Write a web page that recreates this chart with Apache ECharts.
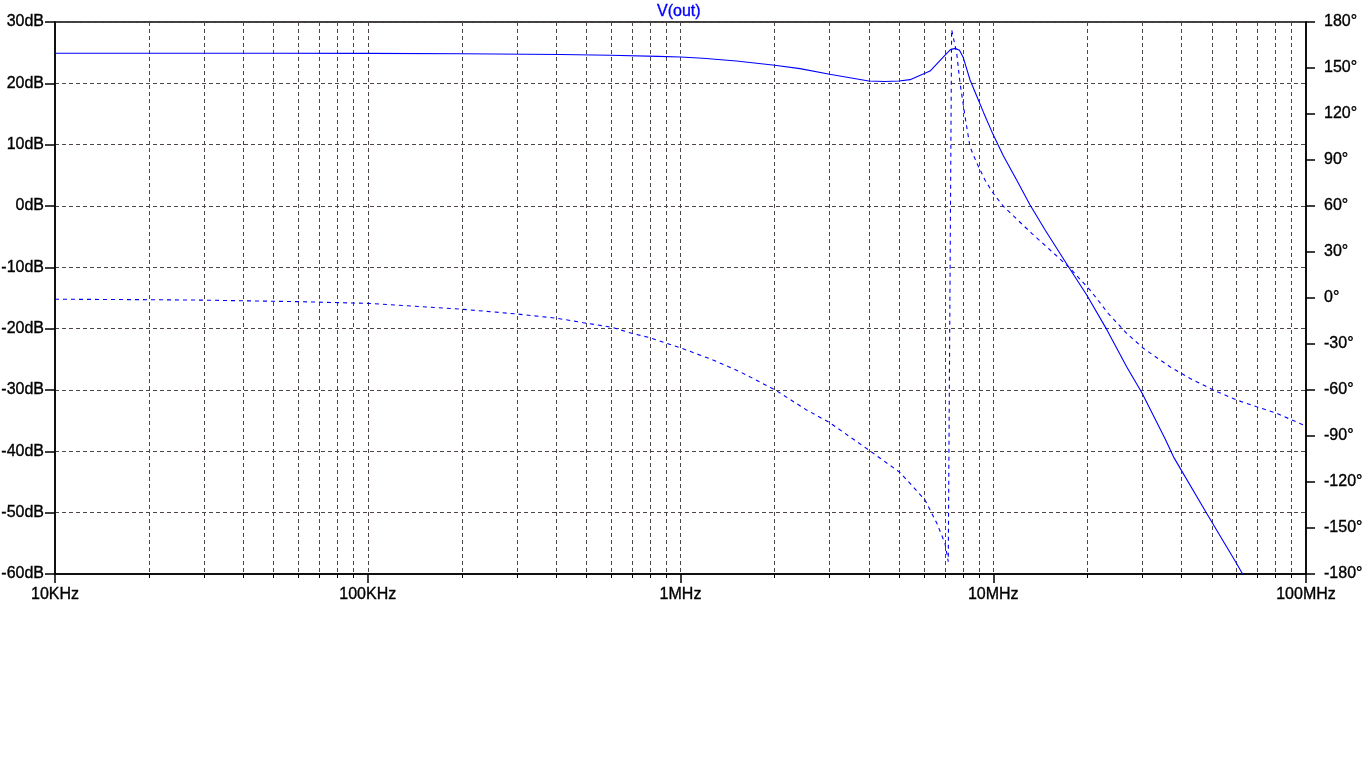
<!DOCTYPE html>
<html><head><meta charset="utf-8">
<script src="https://cdn.jsdelivr.net/npm/echarts@6/dist/echarts.min.js"></script>
<style>html,body{margin:0;padding:0;background:#fff;}#c{width:1366px;height:768px;}</style>
</head><body><div id="c"></div>
<script>
const chartTitle = 'V(out)';
const xTickLabels = ['10KHz', '100KHz', '1MHz', '10MHz', '100MHz'];
const leftUnit = 'dB';
const rightUnit = '°';

// Magnitude (dB, left axis)
const magFreq = [1e4, 2e4, 5e4, 1e5, 2e5, 4.12e5, 5.96e5, 8.48e5, 1e6, 1.18e6, 1.51e6, 2e6, 2.41e6, 3e6, 3.48e6, 4e6, 4.5e6, 5e6, 5.42e6, 6.28e6, 7.1e6, 7.3e6, 7.55e6, 7.8e6, 8.02e6, 8.43e6, 8.86e6, 9.3e6, 1e7, 1.077e7, 1.188e7, 1.31e7, 1.465e7, 1.74e7, 1.99e7, 2.31e7, 2.67e7, 2.99e7, 3.54e7, 3.77e7, 4.81e7, 6.0e7, 6.27e7];
const magDb   = [24.9, 24.9, 24.9, 24.88, 24.83, 24.7, 24.57, 24.4, 24.3, 24.08, 23.64, 22.94, 22.4, 21.47, 20.92, 20.38, 20.3, 20.38, 20.6, 22.0, 24.9, 25.5, 25.7, 25.4, 24.2, 20.54, 17.9, 15.3, 11.6, 8.2, 4.24, 0.2, -3.9, -9.9, -14.5, -20.2, -26.2, -30.5, -37.9, -40.9, -50.1, -58.3, -60.0];

// Phase (degrees, right axis)
const phaseFreq = [1e4, 2e4, 3e4, 6.07e4, 1e5, 2.02e5, 2.99e5, 4.02e5, 4.89e5, 6.03e5, 6.98e5, 7.99e5, 9.03e5, 1.01e6, 1.27e6, 1.55e6, 2.01e6, 2.53e6, 3.0e6, 4.04e6, 5.04e6, 6.05e6, 6.6e6, 7.01e6, 7.18e6, 7.36e6, 7.64e6, 7.83e6, 8.13e6, 8.43e6, 8.86e6, 9.41e6, 9.98e6, 1.075e7, 1.188e7, 1.327e7, 1.52e7, 1.74e7, 2.04e7, 2.33e7, 2.67e7, 3.02e7, 3.67e7, 4.25e7, 5.05e7, 6.0e7, 6.95e7, 8.05e7, 1e8];
const phaseDeg  = [-0.8, -1.1, -1.4, -2.4, -3.5, -7.4, -10.4, -13.2, -16.1, -19.1, -23.0, -25.9, -29.6, -32.8, -40.4, -48.1, -60.0, -73.0, -81.3, -99.8, -113.9, -131.7, -146.9, -160, -172, 175, 159.8, 140.2, 118, 98.5, 88, 77, 68.5, 60.0, 51.5, 42.2, 31.3, 20.4, 5.2, -10, -23, -32.8, -44.8, -52.4, -60, -66.5, -70.9, -75.2, -83.5];

const FONT = "'Liberation Sans', Arial, sans-serif";
const GRID = '#4e4646';
const BLUE = '#0000ff';
const labelStyle = {color: '#000', fontSize: 16, fontFamily: FONT, textBorderColor: '#000', textBorderWidth: 0.35};

const chart = echarts.init(document.getElementById('c'), null, {renderer: 'canvas'});
chart.setOption({
  animation: false,
  backgroundColor: '#ffffff',
  textStyle: {fontFamily: FONT},
  title: {text: chartTitle, left: 657, top: 4, padding: 0,
    textStyle: {color: BLUE, fontSize: 16, fontWeight: 'normal', fontFamily: FONT, textBorderColor: BLUE, textBorderWidth: 0.35}},
  grid: {left: 55, right: 60, top: 22, bottom: 194, outerBoundsMode: 'none', containLabel: false,
    show: true, borderColor: '#000', borderWidth: 1.5, backgroundColor: 'transparent'},
  xAxis: {
    type: 'log', logBase: 10, min: 1e4, max: 1e8,
    axisLine: {onZero: false, lineStyle: {color: '#000', width: 1.5}},
    axisTick: {show: true, length: 9, lineStyle: {color: '#000', width: 1.5}},
    minorTick: {show: true, splitNumber: 9, length: 4, lineStyle: {color: '#000', width: 1}},
    splitLine: {show: true, lineStyle: {color: GRID, width: 1, type: [4, 3]}},
    minorSplitLine: {show: true, lineStyle: {color: GRID, width: 1, type: [4, 3]}},
    axisLabel: Object.assign({margin: 13, formatter: v => xTickLabels[Math.round(Math.log10(v)) - 4]}, labelStyle)
  },
  yAxis: [{
    type: 'value', min: -60, max: 30, interval: 10, position: 'left',
    axisLine: {show: true, lineStyle: {color: '#000', width: 1.5}},
    axisTick: {show: true, length: 10, lineStyle: {color: '#000', width: 1.5}},
    splitLine: {show: true, lineStyle: {color: GRID, width: 1, type: [4, 3]}},
    axisLabel: Object.assign({margin: 11, formatter: v => v + leftUnit}, labelStyle)
  }, {
    type: 'value', min: -180, max: 180, interval: 30, position: 'right',
    axisLine: {show: true, lineStyle: {color: '#000', width: 1.5}},
    axisTick: {show: true, length: 9, lineStyle: {color: '#000', width: 1.5}},
    splitLine: {show: false},
    axisLabel: Object.assign({margin: 18, formatter: v => v + rightUnit}, labelStyle)
  }],
  series: [{
    name: 'mag', type: 'line', yAxisIndex: 0, showSymbol: false, symbol: 'none', clip: true,
    lineStyle: {color: BLUE, width: 1.1},
    data: magFreq.map((f, i) => [f, magDb[i]])
  }, {
    name: 'phase', type: 'line', yAxisIndex: 1, showSymbol: false, symbol: 'none', clip: true,
    lineStyle: {color: BLUE, width: 1.1, type: [4, 4]},
    data: phaseFreq.map((f, i) => [f, phaseDeg[i]])
  }]
});
</script>
</body></html>
